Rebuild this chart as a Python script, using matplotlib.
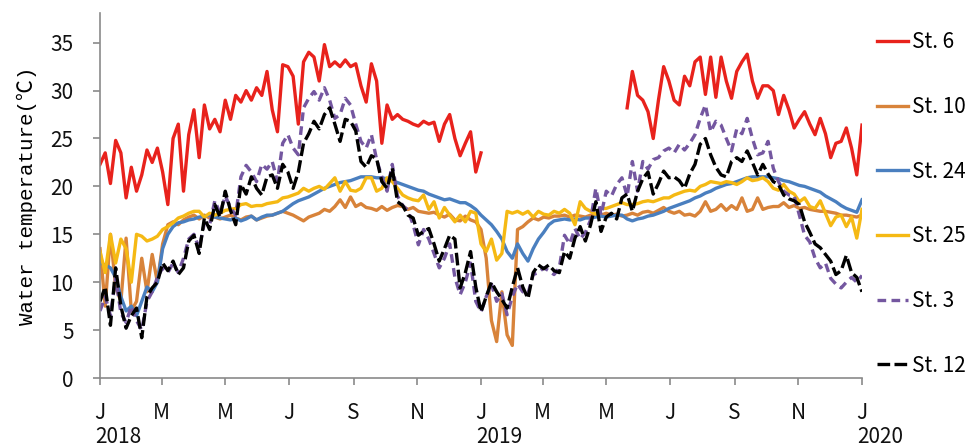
import numpy as np
import pandas as pd
import matplotlib
matplotlib.use('Agg')
import matplotlib.pyplot as plt
import matplotlib.dates as mdates
import matplotlib.transforms as mtransforms
from matplotlib.ticker import FuncFormatter

plt.rcParams['font.family'] = ['Noto Sans CJK JP', 'DejaVu Sans']

# loggers sampled every 5 days, 2018-01-01 .. 2020-01-01
dates = pd.date_range('2018-01-01', '2020-01-01', freq='5D')

# St. 6 (logger missing between early Jan and late May 2019)
st6_2018 = [22.3, 23.5, 20.3, 24.8, 23.5, 18.8, 22.0, 19.5, 21.2, 23.8,
            22.5, 24.0, 21.5, 18.1, 25.0, 26.5, 19.5, 25.4, 28.0, 23.0,
            28.5, 26.0, 27.0, 25.7, 29.0, 27.0, 29.5, 28.8, 30.0, 29.0,
            30.3, 29.5, 32.0, 28.0, 25.7, 32.7, 32.5, 31.5, 26.5, 33.0,
            34.0, 33.5, 31.0, 34.8, 32.5, 33.0, 32.5, 33.2, 32.5, 32.8,
            30.5, 28.8, 32.8, 31.0, 24.5, 28.5, 27.0, 27.5, 27.0, 26.8,
            26.5, 26.3, 26.8, 26.5, 26.7, 24.7, 26.5, 27.5, 25.0, 23.2,
            24.5, 25.7, 21.5, 23.5]
st6_2019 = [28.2, 32.0, 29.5, 29.0, 27.8, 25.0, 29.0, 32.5, 31.0, 29.0,
            28.5, 31.5, 30.5, 33.0, 33.5, 29.6, 33.5, 29.3, 33.5, 31.0,
            29.2, 32.0, 33.0, 33.8, 31.0, 29.2, 30.5, 30.5, 30.0, 27.5,
            29.5, 28.0, 26.1, 27.0, 27.8, 26.5, 25.4, 27.1, 25.5, 23.0,
            24.5, 24.7, 26.1, 24.0, 21.2, 26.4]
st6 = st6_2018 + [np.nan] * 27 + st6_2019

st10 = [13.5, 7.5, 15.0, 9.5, 8.0, 14.6, 7.0, 8.0, 12.5, 9.0,
        12.9, 10.0, 14.0, 16.0, 16.3, 16.0, 16.5, 16.8, 17.0, 16.6,
        17.0, 16.7, 16.8, 16.6, 16.8, 17.0, 16.7, 16.5, 16.8, 16.9,
        16.5, 16.7, 16.9, 17.0, 17.2, 17.4, 17.2, 17.0, 16.7, 16.4,
        16.8, 17.0, 17.2, 17.6, 17.4, 17.9, 18.6, 17.8, 18.9, 17.9,
        18.2, 17.8, 17.7, 17.5, 17.9, 17.5, 17.8, 18.0, 17.9, 17.6,
        17.8, 17.4, 17.3, 17.2, 17.3, 17.0, 16.8, 17.1, 16.5, 16.4,
        16.9, 16.5, 16.3, 15.5, 12.5, 6.0, 3.8, 9.0, 4.5, 3.4,
        15.5, 15.8, 16.3, 16.7, 16.5, 16.8, 16.7, 16.9, 16.9, 17.0,
        16.8, 17.0, 16.9, 16.8, 17.0, 17.1, 17.0, 17.2, 17.0, 17.1,
        16.9, 17.0, 17.2, 17.0, 17.3, 17.4, 17.2, 17.5, 17.8, 17.4,
        17.2, 17.4, 17.0, 17.1, 16.9, 17.4, 18.4, 17.4, 17.6, 18.1,
        17.5, 18.0, 17.6, 18.8, 17.4, 17.6, 18.8, 17.6, 17.8, 17.9,
        17.9, 18.3, 17.8, 18.0, 17.7, 17.8, 17.6, 17.5, 17.4, 17.4,
        17.3, 17.2, 17.0, 17.0, 16.9, 16.8, 17.0]

st24 = [12.0, 11.8, 11.5, 10.5, 8.5, 7.0, 7.5, 6.5, 8.0, 9.5,
        9.0, 10.0, 13.5, 15.0, 15.8, 16.2, 16.3, 16.5, 16.6, 16.8,
        16.9, 17.0, 16.8, 16.7, 16.6, 16.5, 16.7, 16.4, 16.6, 16.9,
        16.5, 16.8, 17.0, 17.0, 17.2, 17.4, 17.8, 18.2, 18.5, 18.7,
        18.9, 19.2, 19.5, 19.8, 20.0, 20.2, 20.4, 20.5, 20.6, 20.8,
        21.0, 21.0, 21.0, 20.9, 20.9, 20.8, 20.6, 20.4, 20.2, 20.0,
        19.8, 19.6, 19.5, 19.2, 19.0, 18.8, 18.6, 18.7, 18.5, 18.3,
        18.3, 18.0, 17.6, 17.0, 16.5, 16.0, 15.3, 14.5, 13.2, 12.5,
        14.0, 13.0, 12.2, 13.5, 14.5, 15.2, 16.0, 16.4, 16.5, 16.6,
        16.5, 16.6, 16.5, 16.7, 16.7, 16.8, 16.9, 16.8, 16.9, 17.0,
        17.0, 16.6, 16.4, 16.6, 16.7, 16.9, 17.0, 17.2, 17.4, 17.7,
        17.9, 18.1, 18.3, 18.5, 18.8, 19.0, 19.3, 19.5, 19.8, 20.0,
        20.2, 20.3, 20.5, 20.7, 20.9, 21.0, 21.0, 21.0, 21.0, 20.9,
        20.8, 20.6, 20.5, 20.3, 20.1, 20.0, 19.8, 19.6, 19.4, 19.0,
        18.7, 18.4, 18.0, 17.7, 17.5, 17.3, 18.6]

st25 = [13.2, 11.0, 15.0, 12.0, 14.5, 13.5, 10.0, 15.0, 14.8, 14.3,
        14.5, 14.8, 15.5, 15.8, 16.2, 16.7, 16.9, 17.2, 17.4, 17.4,
        16.8, 17.2, 17.0, 17.2, 17.5, 17.6, 17.7, 18.1, 18.2, 17.9,
        18.0, 18.0, 18.2, 18.3, 18.4, 18.8, 18.9, 19.1, 19.3, 19.8,
        19.5, 19.8, 20.0, 19.7, 20.3, 20.9, 19.5, 20.5, 19.6, 19.5,
        19.8, 20.9, 20.9, 19.5, 19.8, 20.9, 20.5, 19.8, 19.1, 18.8,
        18.6, 18.5, 19.1, 17.6, 18.4, 16.7, 17.8, 17.0, 16.3, 17.0,
        16.3, 17.4, 17.2, 14.0, 13.2, 14.5, 12.3, 13.0, 17.4, 17.2,
        17.4, 17.1, 17.4, 16.8, 17.4, 17.1, 17.0, 17.4, 17.2, 17.6,
        17.2, 16.0, 18.4, 17.7, 17.4, 17.1, 17.7, 17.7, 17.9, 18.1,
        18.3, 18.1, 18.1, 18.2, 18.4, 18.5, 18.4, 18.6, 18.8, 18.8,
        19.1, 19.3, 19.5, 19.6, 19.5, 20.0, 20.2, 20.5, 20.4, 20.3,
        20.5, 20.4, 20.2, 20.5, 20.9, 20.6, 20.7, 20.9, 20.5, 19.8,
        19.6, 20.2, 19.5, 19.2, 18.4, 18.8, 17.9, 17.7, 18.5, 17.2,
        15.9, 16.8, 17.0, 15.8, 16.8, 14.6, 17.6]

st3 = [7.0, 8.5, 6.5, 10.5, 6.8, 5.8, 7.5, 6.0, 5.0, 8.0,
       9.0, 10.5, 11.5, 11.0, 12.0, 11.0, 12.5, 14.5, 15.0, 13.5,
       16.2, 16.0, 18.5, 17.2, 19.0, 17.8, 17.0, 21.0, 22.2, 21.5,
       20.5, 22.3, 21.8, 22.6, 20.5, 24.5, 25.4, 24.0, 23.3, 28.2,
       29.2, 29.9, 29.0, 30.3, 29.0, 27.1, 27.5, 29.2, 28.5, 26.5,
       24.7, 24.0, 25.4, 22.8, 21.0, 19.5, 22.3, 19.0, 18.0, 17.5,
       16.0, 13.9, 15.5, 14.5, 13.0, 11.5, 12.5, 14.0, 10.5, 8.7,
       10.0, 12.0, 8.0, 6.9, 8.5, 9.8, 8.0, 8.8, 6.6, 8.5,
       9.8, 9.0, 8.8, 10.8, 11.0, 11.5, 11.2, 10.8, 11.5, 14.9,
       14.0, 15.6, 14.5, 15.2, 16.5, 19.8, 17.0, 19.5, 19.0, 20.2,
       20.9, 19.0, 22.6, 19.5, 22.6, 21.8, 22.8, 23.0, 23.7, 24.0,
       23.5, 24.4, 23.8, 24.5, 25.4, 27.1, 28.5, 25.7, 26.8, 26.4,
       25.0, 23.7, 26.0, 25.5, 27.1, 25.0, 23.3, 23.5, 24.7, 21.9,
       20.5, 19.5, 19.1, 19.0, 17.0, 14.9, 14.2, 12.5, 11.5, 12.0,
       10.4, 9.8, 9.4, 10.0, 10.5, 10.0, 10.7]

st12 = [8.0, 9.5, 5.5, 11.5, 7.5, 5.2, 6.5, 7.3, 4.2, 8.5,
        9.4, 10.0, 12.0, 11.2, 12.2, 10.8, 11.5, 14.3, 14.9, 13.0,
        16.7, 15.5, 18.1, 16.8, 19.5, 17.5, 16.0, 20.2, 19.2, 21.0,
        19.8, 19.1, 21.0, 21.2, 19.8, 22.3, 21.5, 19.8, 21.5, 24.5,
        25.5, 26.8, 26.0, 27.5, 28.2, 26.5, 24.7, 27.0, 26.8, 25.8,
        22.6, 22.0, 23.2, 22.9, 20.5, 19.8, 21.9, 18.4, 18.0, 17.0,
        16.7, 14.9, 15.3, 15.6, 14.0, 12.2, 13.5, 14.9, 14.5, 9.4,
        11.0, 13.2, 9.5, 6.9, 8.5, 10.0, 9.0, 8.2, 7.3, 9.5,
        11.5, 9.5, 8.3, 11.0, 11.8, 11.4, 11.8, 11.2, 11.0, 13.2,
        12.5, 14.6, 15.8, 14.3, 16.0, 18.4, 15.3, 16.8, 17.2, 16.6,
        18.8, 19.2, 17.4, 19.5, 20.8, 21.5, 19.2, 20.3, 21.6, 20.9,
        21.0, 20.6, 19.8, 21.3, 22.3, 24.4, 25.0, 23.3, 22.0, 21.2,
        21.0, 22.6, 23.0, 22.6, 23.7, 22.5, 21.2, 22.3, 21.3, 20.5,
        20.2, 19.1, 18.7, 18.5, 18.1, 16.3, 15.2, 14.0, 13.6, 12.9,
        12.2, 10.8, 11.2, 12.8, 11.0, 10.5, 9.0]

stations = ['St. 6', 'St. 10', 'St. 24', 'St. 25', 'St. 3', 'St. 12']
series = [st6, st10, st24, st25, st3, st12]
colors = ['#e8221c', '#d8833a', '#4a7fbf', '#f5b914', '#7457a0', '#000000']
styles = ['-', '-', '-', '-', (0, (2.6, 1.6)), (0, (3.8, 1.3))]

axis_gray = '#8a8a8a'

fig = plt.figure(figsize=(9.73, 4.48), dpi=100)
ax = fig.add_axes([100 / 973, 1 - 378 / 448, 762 / 973, 365 / 448])

for name, vals, c, ls in zip(stations, series, colors, styles):
    ax.plot(dates, vals, color=c, linestyle=ls, linewidth=2.4, label=name)

ax.set_xlim(pd.Timestamp('2018-01-01'), pd.Timestamp('2020-01-01'))
ax.set_ylim(0, 38.1)
ax.set_yticks(range(0, 36, 5))

ax.xaxis.set_major_locator(mdates.MonthLocator(bymonth=[1, 3, 5, 7, 9, 11]))
ax.xaxis.set_major_formatter(
    FuncFormatter(lambda v, p: mdates.num2date(v).strftime('%b')[0]))

for side in ['top', 'right']:
    ax.spines[side].set_visible(False)
for side in ['left', 'bottom']:
    ax.spines[side].set_color(axis_gray)
    ax.spines[side].set_linewidth(1.2)

ax.tick_params(axis='y', length=5, width=1.2, color=axis_gray, pad=14,
               labelsize=15, labelcolor='#111111')
ax.tick_params(axis='x', length=5, width=1.2, color=axis_gray, pad=12,
               labelsize=15, labelcolor='#111111')

# year under each January tick
trans = mtransforms.blended_transform_factory(ax.transData, ax.transAxes)
for yr in ['2018', '2019', '2020']:
    ax.text(pd.Timestamp(yr + '-01-01') - pd.Timedelta(days=5), -0.162, yr,
            transform=trans, ha='left', va='center', fontsize=15,
            color='#111111')

ax.set_ylabel('Water temperature(℃)', fontsize=15, labelpad=10,
              family=['Liberation Mono', 'Noto Sans CJK JP'])

ax.legend(loc='center left', bbox_to_anchor=(877 / 973, 1 - 204 / 448),
          bbox_transform=fig.transFigure, frameon=False, fontsize=15,
          handlelength=1.5, handletextpad=0.2, labelspacing=2.05,
          borderpad=0, borderaxespad=0)

fig.savefig('out.png', dpi=100)
